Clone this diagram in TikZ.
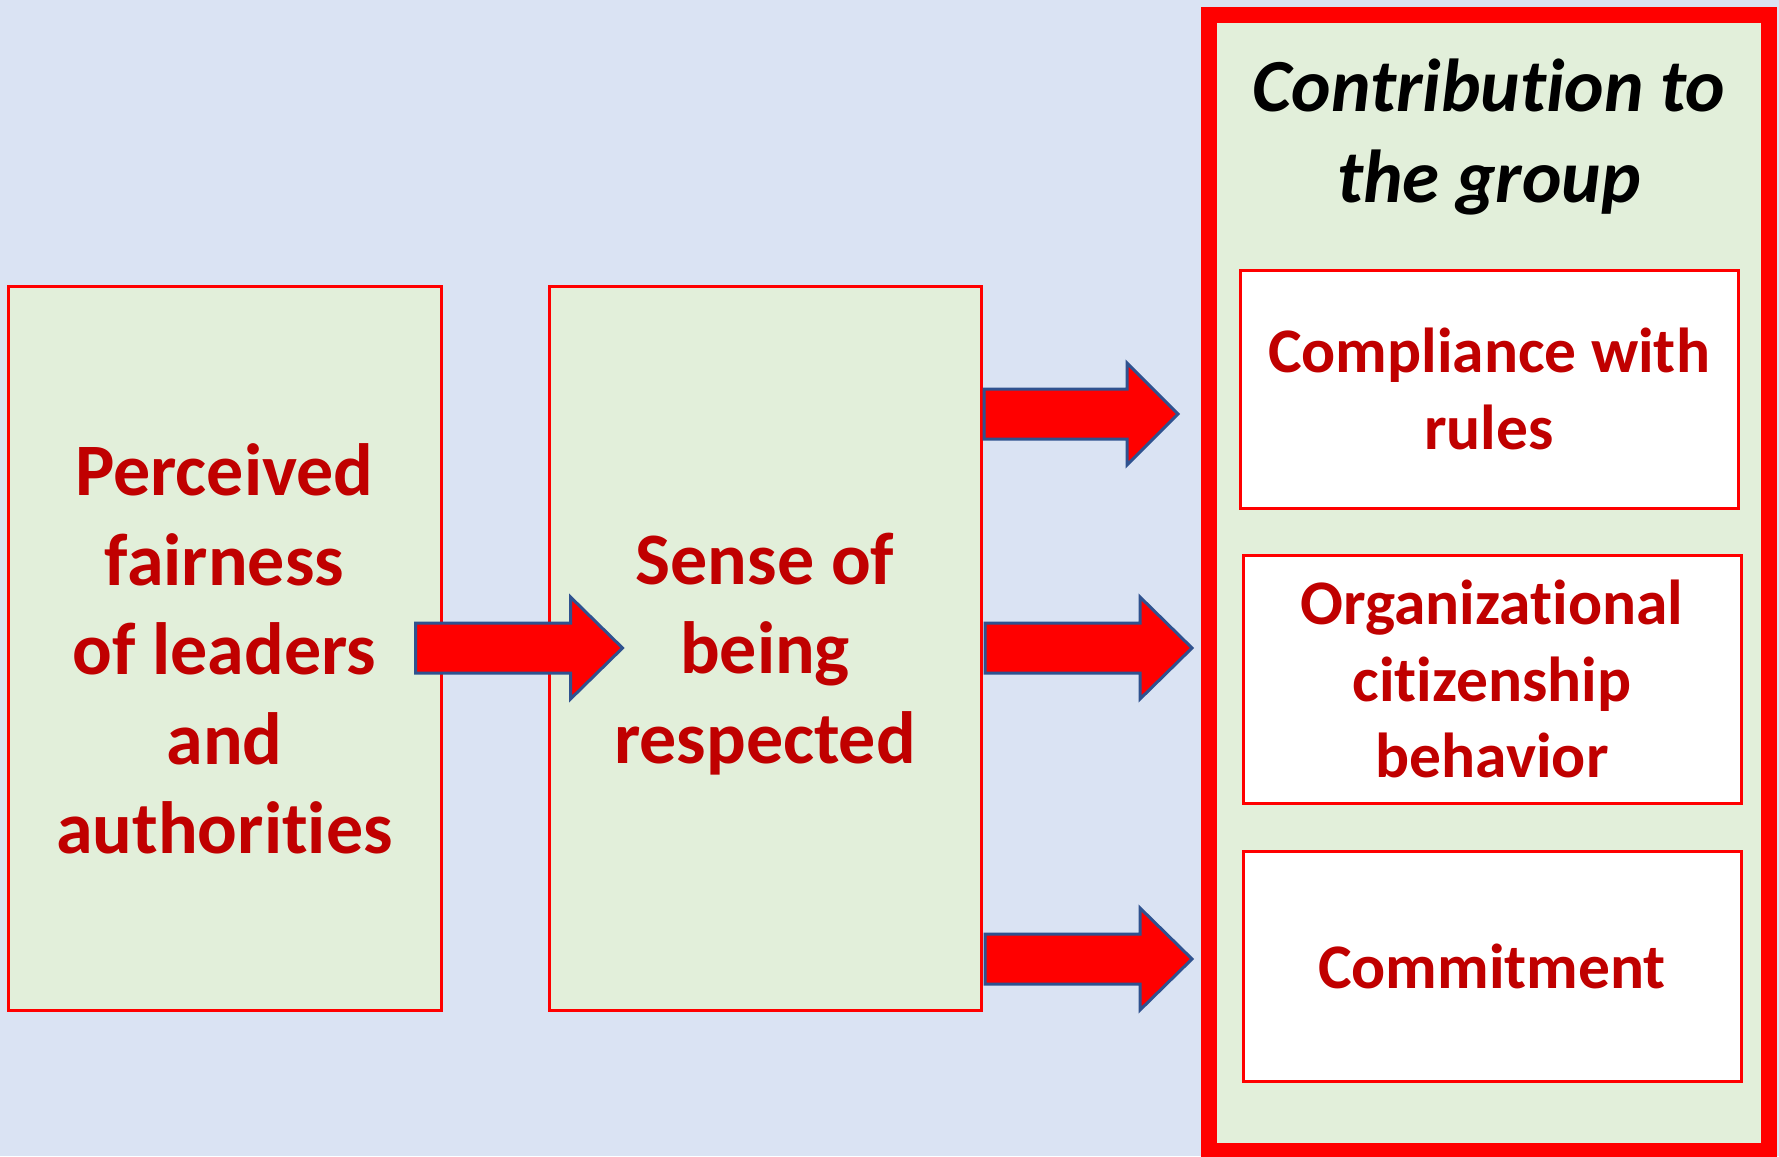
\documentclass[tikz,border=0pt]{standalone}
\usepackage{fontspec}
\setmainfont{Carlito}[Ligatures={NoCommon,NoContextual}]
\usetikzlibrary{calc}
\definecolor{bgblue}{HTML}{DAE3F3}
\definecolor{boxgreen}{HTML}{E2EFDA}
\definecolor{txtred}{HTML}{C00000}
\definecolor{pured}{HTML}{FF0000}
\definecolor{arrowline}{HTML}{2F528F}
\tikzset{
  greenbox/.style={draw=pured, line width=3pt, fill=boxgreen, inner sep=0pt},
  greentext/.style={align=center, text=txtred, inner sep=0pt,
    font=\fontsize{74}{89.5}\selectfont\bfseries},
  whitebox/.style={draw=pured, line width=3pt, fill=white, align=center, text=txtred, inner sep=0pt,
    font=\fontsize{63.5}{76.5}\selectfont\bfseries},
  titletext/.style={align=center, text=black, inner sep=0pt,
    font=\fontsize{75}{91}\selectfont\bfseries\itshape},
  bigarrow/.style={draw=arrowline, line width=3pt, fill=pured, line join=miter}
}
\newcommand\myblockarrow[3]{%
  \draw[bigarrow] ($(#1)+(0,-25)$) -- ++(#2,0) -- ++(0,-26) -- ++(#3,51) -- ++(-#3,51) -- ++(0,-26) -- ++(-#2,0) -- cycle;}
\begin{document}
\begin{tikzpicture}[x=1pt,y=-1pt]
\useasboundingbox (0,0) rectangle (1779,1156);
\fill[bgblue] (0,0) rectangle (1779,1156);
% left and middle boxes
\node[greenbox, minimum width=433pt, minimum height=724pt] (perc) at (224.5,648) {};
\node[greentext] (perctext) at ($(perc.center)+(0,1)$)
  {Perceived\\fairness\\of leaders\\and\\authorities};
\node[greenbox, minimum width=432pt, minimum height=724pt] (sense) at (765,648) {};
\node[greentext] (sensetext) at ($(sense.center)+(0,6)$)
  {Sense of\\being\\respected};
% container
\draw[pured, line width=16pt, fill=boxgreen] (1209,15) rectangle (1769,1151);
\node[titletext] (title) at (1489,137) {Contribution to\\the group};
\node[whitebox, minimum width=498pt, minimum height=238pt] (comp) at (1489,389)
  {Compliance with\\rules};
\node[whitebox, minimum width=498pt, minimum height=248pt] (ocb) at (1492,679)
  {Organizational\\citizenship\\behavior};
\node[whitebox, minimum width=498pt, minimum height=230pt] (commit) at (1492,966)
  {Commitment};
% arrows
\coordinate (a1) at ($(perc.east)+(-27,0)$);
\coordinate (a2) at (984,414);
\coordinate (a3) at (985,648);
\coordinate (a4) at (985,959);
\myblockarrow{a1}{155}{52}
\myblockarrow{a2}{143}{51}
\myblockarrow{a3}{155}{52}
\myblockarrow{a4}{155}{52}
\end{tikzpicture}
\end{document}
